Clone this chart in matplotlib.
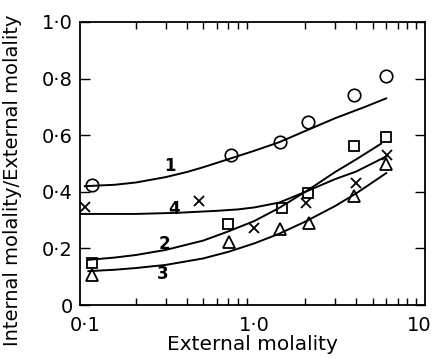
import matplotlib
matplotlib.use('Agg')
import matplotlib.pyplot as plt
from matplotlib.ticker import LogLocator, NullFormatter
from matplotlib.transforms import ScaledTranslation

# measured points (external molality, internal/external ratio)
x_circ = [0.11, 0.73, 1.42, 2.08, 3.87, 5.97]
y_circ = [0.424, 0.53, 0.576, 0.647, 0.742, 0.809]
x_sq = [0.11, 0.70, 1.46, 2.08, 3.87, 5.97]
y_sq = [0.148, 0.286, 0.343, 0.396, 0.562, 0.594]
x_tri = [0.11, 0.71, 1.42, 2.10, 3.87, 5.97]
y_tri = [0.106, 0.223, 0.269, 0.290, 0.385, 0.498]
x_cross = [0.10, 0.474, 0.99, 2.02, 3.97, 6.1]
y_cross = [0.346, 0.367, 0.272, 0.360, 0.431, 0.530]

# fitted curves 1-4
x_c1 = [0.1, 0.15, 0.2, 0.3, 0.4, 0.5, 0.7, 1.0, 1.4, 2.0, 3.0, 4.5, 6.0]
y_c1 = [0.42, 0.425, 0.433, 0.452, 0.47, 0.487, 0.515, 0.545, 0.575, 0.615, 0.66, 0.70, 0.73]
x_c4 = [0.0935, 0.2, 0.35, 0.6, 0.8, 1.0, 1.4, 2.0, 3.0, 4.0, 6.0]
y_c4 = [0.322, 0.322, 0.326, 0.333, 0.338, 0.345, 0.362, 0.40, 0.445, 0.472, 0.525]
x_c2 = [0.105, 0.15, 0.2, 0.3, 0.5, 0.7, 1.0, 1.4, 2.0, 3.0, 4.0, 5.6]
y_c2 = [0.16, 0.168, 0.177, 0.195, 0.228, 0.26, 0.297, 0.343, 0.40, 0.47, 0.515, 0.57]
x_c3 = [0.105, 0.15, 0.2, 0.3, 0.5, 0.7, 1.0, 1.4, 2.0, 3.0, 4.0, 6.0]
y_c3 = [0.12, 0.125, 0.131, 0.142, 0.165, 0.188, 0.218, 0.252, 0.295, 0.35, 0.395, 0.466]

curve_labels = ['1', '4', '2', '3']
label_x = [0.32, 0.335, 0.295, 0.29]
label_y = [0.49, 0.34, 0.215, 0.11]

fig = plt.figure(figsize=(4.34, 3.59), dpi=100)
ax = fig.add_axes([0.184, 0.150, 0.795, 0.789])

for xs, ys in [(x_c1, y_c1), (x_c4, y_c4), (x_c2, y_c2), (x_c3, y_c3)]:
    ax.plot(xs, ys, '-', color='black', lw=1.4)

ax.plot(x_circ, y_circ, 'o', ms=9, mfc='none', mec='black', mew=1.2)
ax.plot(x_sq, y_sq, 's', ms=7, mfc='none', mec='black', mew=1.3)
ax.plot(x_tri, y_tri, '^', ms=9, mfc='none', mec='black', mew=1.3)
ax.plot(x_cross, y_cross, 'x', ms=7, mec='black', mew=1.3)

for t, lx, ly in zip(curve_labels, label_x, label_y):
    ax.text(lx, ly, t, fontsize=12, fontweight='bold', ha='center', va='center')

ax.set_xscale('log')
ax.set_xlim(0.0935, 10.15)
ax.set_ylim(0, 1.0)

ax.set_xticks([0.1, 1, 10])
ax.set_xticklabels(['0·1', '1·0', '10'], fontsize=14)
ax.xaxis.set_minor_locator(LogLocator(base=10, subs=range(2, 10)))
ax.xaxis.set_minor_formatter(NullFormatter())
ax.set_yticks([0, 0.2, 0.4, 0.6, 0.8, 1.0])
ax.set_yticklabels(['0', '0·2', '0·4', '0·6', '0·8', '1·0'], fontsize=14)

ax.tick_params(which='both', direction='in', top=True, right=True, width=1)
ax.tick_params(which='major', length=7, pad=5)
ax.tick_params(which='minor', length=5)
ax.tick_params(axis='x', which='major', length=0, pad=8)

# keep the "10" label inside the figure
last = ax.get_xticklabels()[-1]
last.set_transform(last.get_transform() + ScaledTranslation(-5 / 100, 0, fig.dpi_scale_trans))

for s in ax.spines.values():
    s.set_linewidth(1.3)

ax.set_xlabel('External molality', fontsize=14.5, labelpad=0)
ax.set_ylabel('Internal molality/External molality', fontsize=14, va='center')
ax.yaxis.set_label_coords(-0.195, 0.44)

plt.savefig('out.png', dpi=100)
